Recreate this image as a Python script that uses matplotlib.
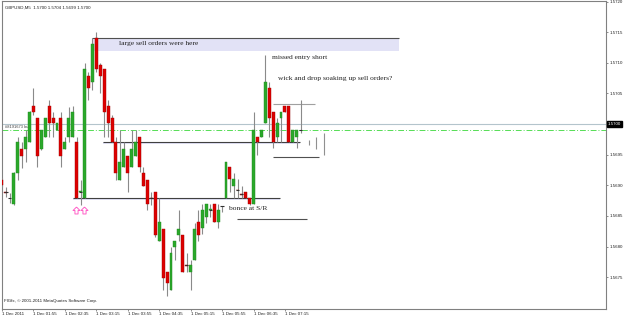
import numpy as np
import matplotlib.pyplot as plt

# GBPUSD M5 bars (open, high, low, close)
opens = [1.56909, 1.56889, 1.56880, 1.56870, 1.56920, 1.56960, 1.56960, 1.56970, 1.57030, 1.57010,
         1.56960, 1.56979, 1.57030, 1.57010, 1.56991, 1.57010, 1.56960, 1.56979, 1.56979, 1.56970,
         1.56889, 1.56880, 1.57079, 1.57069, 1.57141, 1.57097, 1.57090, 1.57030, 1.57010, 1.56970,
         1.56909, 1.56930, 1.56948, 1.56930, 1.56948, 1.56979, 1.56920, 1.56909, 1.56880, 1.56889,
         1.56809, 1.56829, 1.56759, 1.56729, 1.56800, 1.56819, 1.56819, 1.56770, 1.56759, 1.56778,
         1.56840, 1.56831, 1.56849, 1.56860, 1.56870, 1.56840, 1.56867, 1.56880, 1.56930, 1.56899,
         1.56893, 1.56885, 1.56889, 1.56880, 1.56870, 1.56979, 1.56979, 1.57001, 1.57059, 1.57020,
         1.56979, 1.57010, 1.57030, 1.57030, 1.56971, 1.56979, 1.56991]
highs = [1.56912, 1.56898, 1.56888, 1.56922, 1.56979, 1.56970, 1.56991, 1.57022, 1.57059, 1.57010,
         1.56991, 1.57010, 1.57040, 1.57020, 1.57001, 1.57020, 1.56979, 1.57028, 1.57030, 1.56979,
         1.56909, 1.57100, 1.57085, 1.57141, 1.57151, 1.57100, 1.57090, 1.57040, 1.57015, 1.56979,
         1.56991, 1.56970, 1.56948, 1.56991, 1.56991, 1.56979, 1.56930, 1.56909, 1.56889, 1.56889,
         1.56880, 1.56829, 1.56759, 1.56800, 1.56809, 1.56860, 1.56819, 1.56790, 1.56778, 1.56838,
         1.56860, 1.56870, 1.56870, 1.56870, 1.56870, 1.56870, 1.56867, 1.56938, 1.56930, 1.56920,
         1.56911, 1.56899, 1.56889, 1.56880, 1.57020, 1.56979, 1.56991, 1.57113, 1.57069, 1.57020,
         1.57010, 1.57020, 1.57030, 1.57030, 1.56991, 1.56991, 1.57040]
lows = [1.56898, 1.56881, 1.56871, 1.56868, 1.56909, 1.56929, 1.56938, 1.56970, 1.57015, 1.56930,
        1.56958, 1.56979, 1.56979, 1.56979, 1.56991, 1.56930, 1.56960, 1.56970, 1.56979, 1.56880,
        1.56868, 1.56880, 1.57040, 1.57056, 1.57085, 1.57051, 1.56979, 1.56979, 1.56970, 1.56909,
        1.56909, 1.56930, 1.56889, 1.56930, 1.56948, 1.56922, 1.56899, 1.56860, 1.56868, 1.56815,
        1.56809, 1.56729, 1.56720, 1.56729, 1.56778, 1.56809, 1.56759, 1.56759, 1.56729, 1.56778,
        1.56809, 1.56821, 1.56838, 1.56849, 1.56840, 1.56831, 1.56857, 1.56880, 1.56889, 1.56880,
        1.56880, 1.56880, 1.56880, 1.56868, 1.56870, 1.56950, 1.56979, 1.57001, 1.56979, 1.56961,
        1.56971, 1.56971, 1.57020, 1.56971, 1.56971, 1.56961, 1.56985]
closes = [1.56901, 1.56888, 1.56880, 1.56920, 1.56970, 1.56948, 1.56979, 1.57020, 1.57020, 1.56948,
          1.56991, 1.57010, 1.57001, 1.57001, 1.57001, 1.56948, 1.56970, 1.57010, 1.57020, 1.56880,
          1.56890, 1.57090, 1.57059, 1.57130, 1.57090, 1.57079, 1.57020, 1.57001, 1.56970, 1.56920,
          1.56938, 1.56960, 1.56920, 1.56960, 1.56970, 1.56930, 1.56899, 1.56870, 1.56879, 1.56819,
          1.56840, 1.56749, 1.56741, 1.56790, 1.56809, 1.56829, 1.56759, 1.56769, 1.56770, 1.56829,
          1.56819, 1.56860, 1.56870, 1.56861, 1.56840, 1.56860, 1.56867, 1.56938, 1.56911, 1.56911,
          1.56892, 1.56884, 1.56880, 1.56870, 1.56991, 1.56971, 1.56991, 1.57069, 1.57010, 1.56971,
          1.57001, 1.57020, 1.57020, 1.56971, 1.56991, 1.56991, 1.56991]

# the last few thin grey bars
ghost_idx = [78, 80, 82]
ghost_high = [1.56974, 1.56979, 1.56986]
ghost_low = [1.56966, 1.56960, 1.56950]

# buy arrows under the S/R line
arrow_x = [18.8, 20.9]
arrow_y = [1.56860, 1.56860]

tick_bars = [0, 8, 16, 24, 32, 40, 48, 56, 64, 72]
tick_names = ['1 Dec 2011', '1 Dec 01:55', '1 Dec 02:35', '1 Dec 03:15', '1 Dec 03:55',
              '1 Dec 04:35', '1 Dec 05:15', '1 Dec 05:55', '1 Dec 06:35', '1 Dec 07:15']
price_ticks = [1.5675, 1.5680, 1.5685, 1.5690, 1.5695, 1.5700, 1.5705, 1.5710, 1.5715, 1.5720]

bid = 1.5700
order_level = 1.56991
sell_zone = (1.57120, 1.57141)
sr_low = 1.56880
sr_mid = 1.56971
box_top = 1.57032
box_bottom = 1.56947
low_line = 1.56845

o = np.array(opens)
h = np.array(highs)
l = np.array(lows)
c = np.array(closes)
x = np.arange(len(o))

fig = plt.figure(figsize=(6.25, 3.17), dpi=100)
ax = fig.add_axes([2 / 625, 8 / 317, 604 / 625, 308 / 317])

small = dict(family='Liberation Sans', fontsize=3.2, color='#202020')
note = dict(family='Liberation Serif', fontsize=5.4, color='#202020')

# reference lines
ax.axhline(bid, color='#b4c4cc', lw=0.8, zorder=1)
ax.axhline(order_level, color='#55dd55', lw=0.7, ls=(0, (6, 2, 1, 2)), zorder=1)

# sell zone box
ax.fill_between([23, 101], sell_zone[0], sell_zone[1], color='#e2e2f6', lw=0, zorder=1)
ax.hlines(sell_zone[1], 23, 101, color='#505050', lw=0.8, zorder=2)

# S/R lines with a light band under them
ax.fill_between([18, 70.7], sr_low - 0.00004, sr_low, color='#e2e2f6', lw=0, zorder=1)
ax.hlines(sr_low, 18, 70.7, color='#404040', lw=0.8, zorder=2)
ax.fill_between([25.7, 75.8], sr_mid - 0.00004, sr_mid, color='#e2e2f6', lw=0, zorder=1)
ax.hlines(sr_mid, 25.7, 75.8, color='#404040', lw=0.8, zorder=2)
ax.hlines(box_top, 68.9, 79.6, color='#a0a0a0', lw=0.8, zorder=2)
ax.hlines(box_bottom, 68.9, 80.7, color='#505050', lw=0.8, zorder=2)
ax.hlines(low_line, 59.8, 77.6, color='#505050', lw=0.8, zorder=2)

# candles
up = c > o
down = c < o
tiny = np.abs(c - o) < 0.00002
ax.vlines(x, l, h, color='#8a8a8a', lw=0.8, zorder=3)
ax.bar(x[up], (c - o)[up], bottom=o[up], width=0.75, color='#2aa82a', edgecolor='#1f8a1f', lw=0.3, zorder=4)
ax.bar(x[down], (o - c)[down], bottom=c[down], width=0.75, color='#dd0000', edgecolor='#a00000', lw=0.3, zorder=4)
ax.hlines(o[tiny], x[tiny] - 0.4, x[tiny] + 0.4, color='#303030', lw=0.8, zorder=5)
ax.vlines(ghost_idx, ghost_low, ghost_high, color='#909090', lw=0.8, zorder=3)

# hollow up-arrow marker
arrow = [(0, 1), (-1, 0), (-0.45, 0), (-0.45, -1), (0.45, -1), (0.45, 0), (1, 0), (0, 1)]
ax.plot(arrow_x, arrow_y, ls='none', marker=arrow, ms=5, mfc='white', mec='#ff5fc8', mew=0.7, zorder=5)

# notes
ax.text(29.8, 1.57131, 'large sell orders were here', va='center', **note)
ax.text(68.7, 1.57108, 'missed entry short', va='center', **note)
ax.text(70.2, 1.57074, 'wick and drop soaking up sell orders?', va='center', **note)
ax.text(57.8, 1.56862, 'bonce at S/R', va='center', **note)
ax.text(0.8, 1.56996, '#8191673 buy', va='center', family='Liberation Sans', fontsize=2.9, color='#404040')

ax.text(0.005, 0.985, 'GBPUSD,M5  1.5700 1.5704 1.5699 1.5700', transform=ax.transAxes,
        va='top', ha='left', **small)
ax.text(0.003, 0.018, 'FIGfx, \u00a9 2001-2011 MetaQuotes Software Corp.', transform=ax.transAxes,
        va='bottom', ha='left', **small)

# current price tag (takes the place of the 1.5700 tick label)
ax.text(1.003, bid, '1.5700', transform=ax.get_yaxis_transform(), va='center', ha='left',
        family='Liberation Sans', fontsize=3.2, color='white',
        bbox=dict(boxstyle='square,pad=0.15', fc='black', ec='black'))

ax.set_xlim(0, 153.7)
ax.set_ylim(1.56698, 1.57201)
ax.set_xticks(tick_bars)
ax.set_xticklabels(tick_names, ha='left')
ax.set_yticks(price_ticks)
ax.set_yticklabels(['' if abs(p - bid) < 1e-6 else '%.4f' % p for p in price_ticks])
ax.yaxis.tick_right()
ax.tick_params(axis='both', length=1.5, width=0.5, color='#606060', pad=1, labelsize=3.2,
               labelcolor='#202020')
for lab in ax.get_xticklabels() + ax.get_yticklabels():
    lab.set_family('Liberation Sans')
for sp in ax.spines.values():
    sp.set_color('#808080')
    sp.set_linewidth(0.8)

fig.savefig('out.png', dpi=100)
